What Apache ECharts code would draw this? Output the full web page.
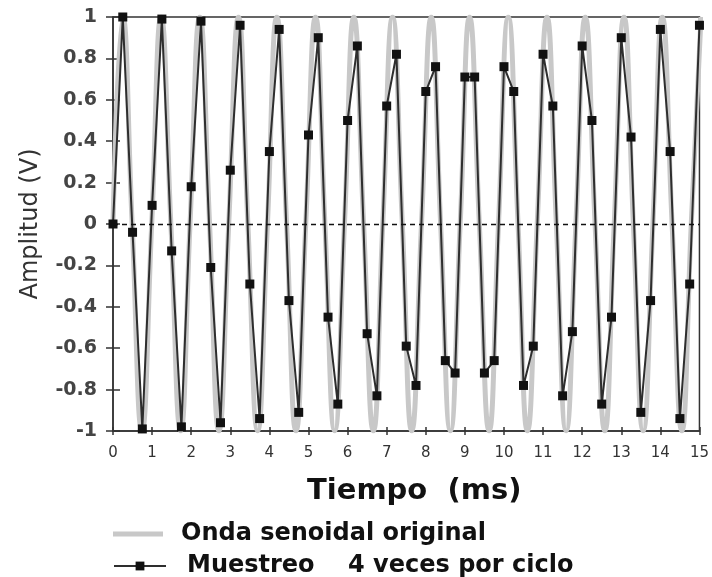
<!DOCTYPE html>
<html>
<head>
<meta charset="utf-8">
<script src="https://cdn.jsdelivr.net/npm/echarts@6/dist/echarts.min.js"></script>
<style>
  html, body { margin: 0; padding: 0; background: #fff; }
  #chart { width: 712px; height: 577px; }
</style>
</head>
<body>
<div id="chart"></div>
<script>
// muestras, 4 por ciclo (ms)
const sampleTime = [0, 0.25, 0.5, 0.75, 1, 1.25, 1.5, 1.75, 2, 2.25, 2.5, 2.75, 3, 3.25, 3.5, 3.75,
  4, 4.25, 4.5, 4.75, 5, 5.25, 5.5, 5.75, 6, 6.25, 6.5, 6.75, 7, 7.25, 7.5, 7.75,
  8, 8.25, 8.5, 8.75, 9, 9.25, 9.5, 9.75, 10, 10.25, 10.5, 10.75, 11, 11.25, 11.5, 11.75,
  12, 12.25, 12.5, 12.75, 13, 13.25, 13.5, 13.75, 14, 14.25, 14.5, 14.75, 15];
const sampleValue = [0, 1, -0.04, -0.99, 0.09, 0.99, -0.13, -0.98, 0.18, 0.98, -0.21, -0.96, 0.26, 0.96, -0.29, -0.94,
  0.35, 0.94, -0.37, -0.91, 0.43, 0.9, -0.45, -0.87, 0.5, 0.86, -0.53, -0.83, 0.57, 0.82, -0.59, -0.78,
  0.64, 0.76, -0.66, -0.72, 0.71, 0.71, -0.72, -0.66, 0.76, 0.64, -0.78, -0.59, 0.82, 0.57, -0.83, -0.52,
  0.86, 0.5, -0.87, -0.45, 0.9, 0.42, -0.91, -0.37, 0.94, 0.35, -0.94, -0.29, 0.96];

// onda original: cruces por cero y picos
const waveTime = [0, 0.25, 0.49, 0.74, 0.99, 1.23, 1.48, 1.73, 1.97, 2.22, 2.47, 2.71, 2.96, 3.21, 3.45, 3.7,
  3.95, 4.19, 4.44, 4.68, 4.93, 5.18, 5.42, 5.67, 5.92, 6.16, 6.41, 6.66, 6.9, 7.15, 7.4, 7.64,
  7.89, 8.14, 8.38, 8.63, 8.88, 9.12, 9.37, 9.62, 9.86, 10.11, 10.36, 10.6, 10.85, 11.1, 11.34, 11.59,
  11.84, 12.08, 12.33, 12.58, 12.82, 13.07, 13.31, 13.56, 13.81, 14.05, 14.3, 14.55, 14.79, 15.04];
const waveValue = [0, 1, 0, -1, 0, 1, 0, -1, 0, 1, 0, -1, 0, 1, 0, -1,
  0, 1, 0, -1, 0, 1, 0, -1, 0, 1, 0, -1, 0, 1, 0, -1,
  0, 1, 0, -1, 0, 1, 0, -1, 0, 1, 0, -1, 0, 1, 0, -1,
  0, 1, 0, -1, 0, 1, 0, -1, 0, 1, 0, -1, 0, 1];

const xTicks = ['0', '1', '2', '3', '4', '5', '6', '7', '8', '9', '10', '11', '12', '13', '14', '15'];
const yTicks = ['-1', '-0.8', '-0.6', '-0.4', '-0.2', '0', '0.2', '0.4', '0.6', '0.8', '1'];

const FONT = '"DejaVu Sans", Verdana, sans-serif';
const WAVE_NAME = 'Onda senoidal original';
const SAMPLE_NAME = 'Muestreo    4 veces por ciclo';

let chart = echarts.init(document.getElementById('chart'));

let legendText = {
  fontFamily: FONT,
  fontSize: 24,
  lineHeight: 28,
  fontWeight: 'bold',
  color: '#111'
};

let option = {
  animation: false,
  grid: {
    left: 113, right: 10, top: 17, bottom: 146,
    show: true,
    borderColor: '#333',
    borderWidth: 1.5
  },
  legend: [
    {
      left: 108,
      top: 515,
      itemWidth: 50,
      itemHeight: 5,
      data: [{ name: WAVE_NAME, icon: 'rect' }],
      textStyle: Object.assign({}, legendText, { padding: [0, 0, 0, 13] })
    },
    {
      left: 108,
      top: 547,
      itemWidth: 52,
      itemHeight: 11,
      data: [SAMPLE_NAME],
      textStyle: Object.assign({}, legendText, { padding: [0, 0, 0, 16] })
    }
  ],
  xAxis: [
    {
      type: 'value',
      min: 0, max: 15, interval: 1,
      position: 'bottom',
      name: 'Tiempo  (ms)',
      nameLocation: 'middle',
      nameGap: 46,
      nameTextStyle: { fontFamily: FONT, fontSize: 29, fontWeight: 'bold', color: '#111', padding: [0, 0, 0, 16] },
      axisLine: { onZero: false, lineStyle: { color: '#333', width: 1.5 } },
      axisTick: { length: 4, lineStyle: { color: '#333', width: 1.5 } },
      axisLabel: {
        margin: 15,
        fontFamily: FONT, fontSize: 15, color: '#333',
        formatter: v => xTicks[Math.round(v)]
      },
      splitLine: { show: false }
    },
    {
      type: 'value',
      min: 0, max: 15, interval: 1,
      position: 'bottom',
      axisLine: { show: false, onZero: false },
      axisTick: { inside: true, length: 4, lineStyle: { color: '#333', width: 1.5 } },
      axisLabel: { show: false },
      splitLine: { show: false }
    }
  ],
  yAxis: [
    {
      type: 'value',
      min: -1, max: 1, interval: 0.2,
      position: 'left',
      name: 'Amplitud (V)',
      nameLocation: 'middle',
      nameGap: 70,
      nameTextStyle: { fontFamily: FONT, fontSize: 24, color: '#333' },
      axisLine: { onZero: false, lineStyle: { color: '#333', width: 1.5 } },
      axisTick: { length: 7, lineStyle: { color: '#333', width: 1.5 } },
      axisLabel: {
        margin: 16,
        fontFamily: FONT, fontSize: 19, fontWeight: 'bold', color: '#444',
        formatter: v => yTicks[Math.round((v + 1) * 5)]
      },
      splitLine: { show: false }
    },
    {
      type: 'value',
      min: -1, max: 1, interval: 0.2,
      position: 'left',
      axisLine: { show: false, onZero: false },
      axisTick: { inside: true, length: 7, lineStyle: { color: '#333', width: 1.5 } },
      axisLabel: { show: false },
      splitLine: { show: false }
    }
  ],
  series: [
    {
      name: WAVE_NAME,
      type: 'line',
      symbol: 'none',
      smooth: 0.5,
      data: waveTime.map((t, i) => [t, waveValue[i]]),
      lineStyle: { color: '#c8c8c8', width: 5 },
      itemStyle: { color: '#c8c8c8' },
      z: 2
    },
    {
      name: SAMPLE_NAME,
      type: 'line',
      symbol: 'rect',
      symbolSize: 9,
      data: sampleTime.map((t, i) => [t, sampleValue[i]]),
      lineStyle: { color: '#2e2e2e', width: 2 },
      itemStyle: { color: '#111' },
      markLine: {
        silent: true,
        symbol: 'none',
        label: { show: false },
        lineStyle: { color: '#111', type: [5, 4], width: 1.3 },
        data: [{ yAxis: 0 }]
      },
      z: 3
    }
  ]
};

chart.setOption(option);
window.addEventListener('resize', () => chart.resize());
</script>
</body>
</html>
